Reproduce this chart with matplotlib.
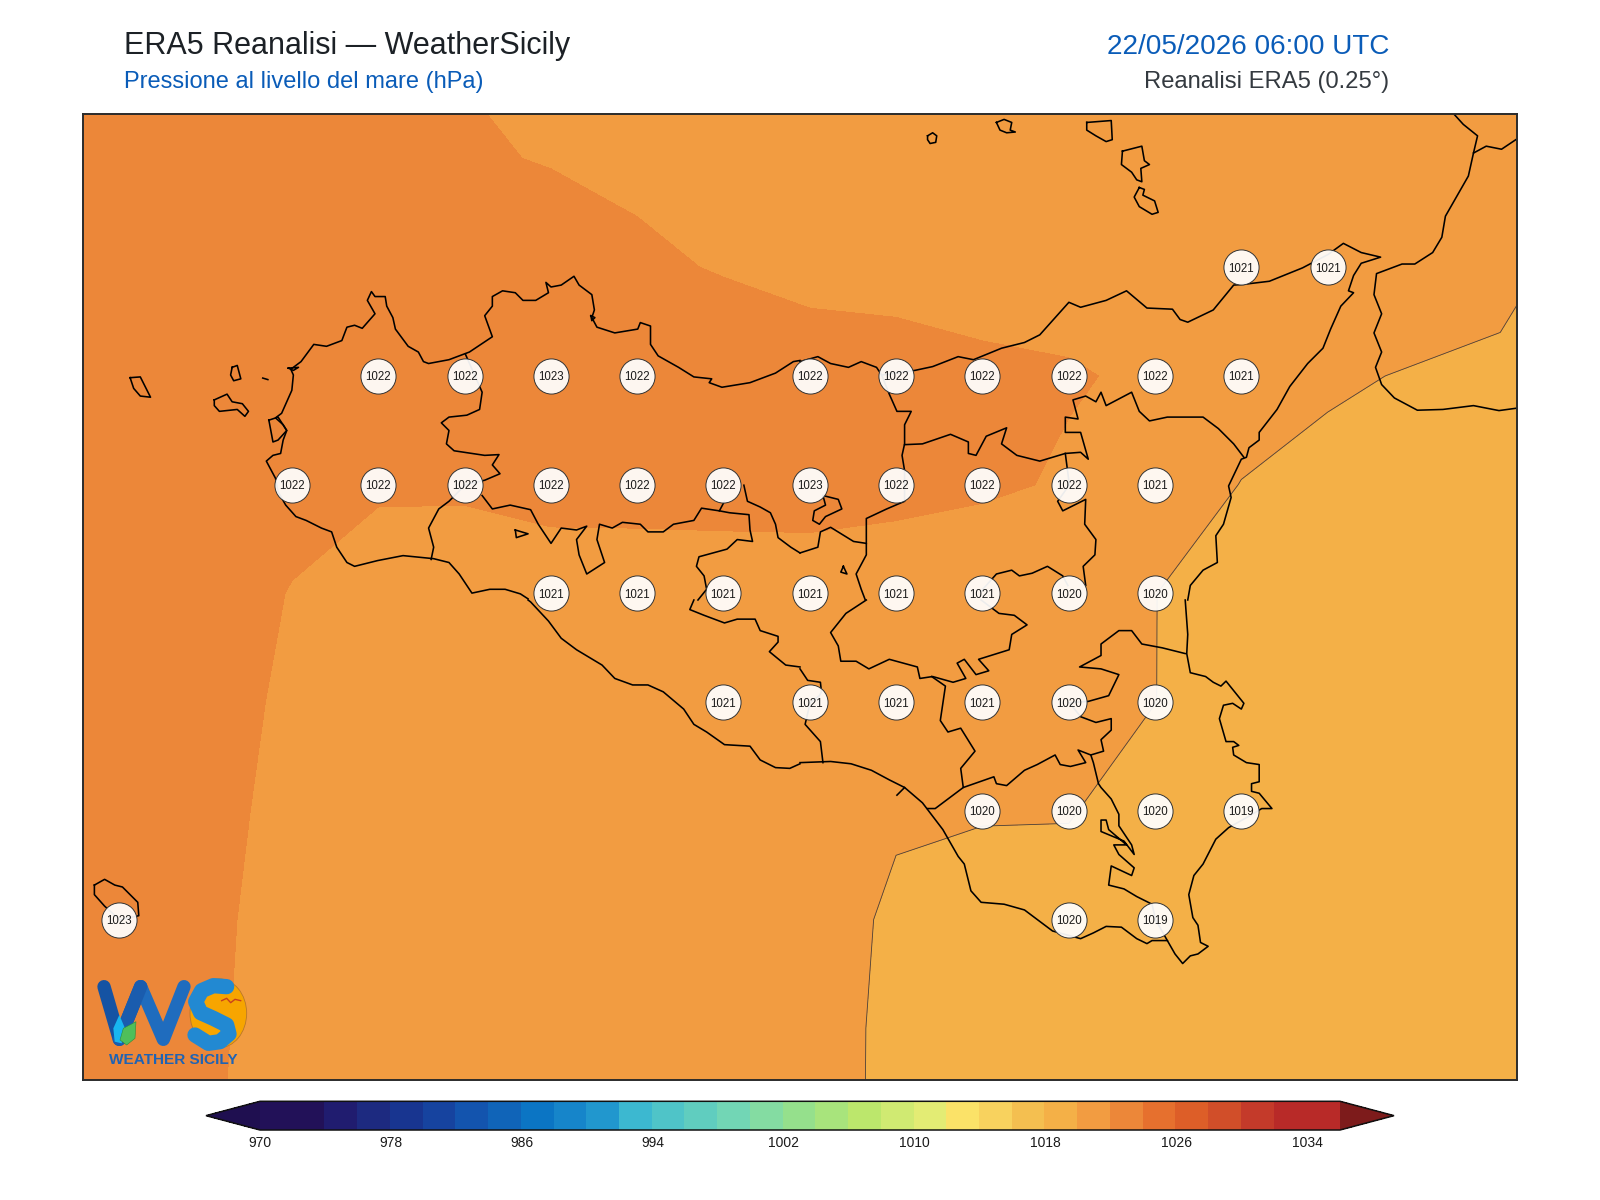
import numpy as np
import matplotlib
matplotlib.use("Agg")
import matplotlib.pyplot as plt
from matplotlib.colors import ListedColormap, BoundaryNorm
from matplotlib.patches import Ellipse, Polygon

plt.rcParams['font.family'] = ['Liberation Sans', 'DejaVu Sans']

W, H = 1600, 1200
# ---- data -------------------------------------------------------------
LONS = [11.75 + 0.25 * i for i in range(19)]
LATS = [38.75, 38.5, 38.25, 38.0, 37.75, 37.5, 37.25, 37.0, 36.75, 36.5, 36.25]
MSLP = [
 [1023.0,1022.9,1022.7,1022.4,1022.2,1021.9,1021.7,1021.6,1021.5,1021.4,1021.3,1021.2,1021.1,1021.0,1020.9,1020.8,1020.7,1020.6,1020.5],
 [1023.1,1023.0,1022.8,1022.6,1022.4,1022.2,1021.9,1021.85,1021.7,1021.55,1021.4,1021.3,1021.2,1021.1,1021.0,1020.9,1020.8,1020.5,1020.1],
 [1023.2,1023.1,1023.0,1023.0,1023.0,1023.0,1022.95,1022.13,1021.95,1021.8,1021.7,1021.6,1021.5,1021.3,1021.2,1021.1,1020.9,1020.3,1019.65],
 [1023.0,1022.9,1022.7,1022.5,1022.4,1022.45,1022.6,1022.4,1022.49,1022.33,1022.35,1022.19,1022.1,1021.81,1020.6,1020.2,1019.9,1019.8,1019.5],
 [1023.0,1022.9,1022.7,1022.3,1022.1,1022.1,1022.35,1022.4,1022.45,1022.55,1022.4,1022.25,1021.84,1020.8,1019.97,1019.6,1019.5,1019.5,1019.4],
 [1023.0,1022.8,1022.46,1021.96,1021.61,1021.57,1021.45,1021.4,1021.39,1021.3,1021.19,1020.78,1020.45,1020.01,1019.6,1019.4,1019.3,1019.3,1019.2],
 [1022.9,1022.7,1022.45,1021.8,1021.6,1021.5,1021.4,1021.3,1021.2,1021.1,1021.0,1020.7,1020.3,1020.01,1019.5,1019.2,1019.2,1019.1,1019.0],
 [1022.8,1022.6,1022.3,1021.72,1021.5,1021.3,1021.2,1021.1,1021.0,1020.8,1020.18,1020.1,1020.06,1019.52,1019.3,1019.1,1019.1,1019.0,1019.0],
 [1022.7,1022.6,1022.2,1021.65,1021.4,1021.3,1021.2,1021.0,1020.9,1020.74,1019.74,1019.39,1019.54,1019.4,1019.2,1019.1,1019.0,1019.0,1018.9],
 [1022.6,1022.4,1022.12,1021.7,1021.4,1021.2,1021.1,1021.0,1020.85,1020.65,1019.65,1019.5,1019.4,1019.3,1019.2,1019.1,1019.0,1018.9,1018.9],
 [1022.5,1022.3,1022.08,1021.7,1021.4,1021.2,1021.1,1021.0,1020.84,1020.64,1019.64,1019.5,1019.4,1019.3,1019.2,1019.1,1019.0,1018.9,1018.8],
]
LEVELS = [970 + 2 * i for i in range(34)]
BAND_COLORS = ['#221158','#221158','#201c6f','#1d2a80','#183590','#16439f','#1354ae','#1064b8',
               '#0b75c4','#1685ca','#2197ce','#3cb8d0','#4fc4c8','#60cdbf','#72d6b5','#84dca2',
               '#95e08c','#a8e47c','#bce76c','#d0ea72','#e3ec74','#fbe268','#f8d25e','#f4bf50',
               '#f4b047','#f29c41','#ec8739','#e6702e','#dd5e28','#d14e29','#c43a2a','#b82a28','#b82a28']
UNDER_COLOR, OVER_COLOR = '#1f0f50', '#7d1b1b'
CBAR_TICKS = [970, 978, 986, 994, 1002, 1010, 1018, 1026, 1034]

LABEL_LON = [15.25,15.5,
             12.75,13.0,13.25,13.5,14.0,14.25,14.5,14.75,15.0,15.25,
             12.5,12.75,13.0,13.25,13.5,13.75,14.0,14.25,14.5,14.75,15.0,
             13.25,13.5,13.75,14.0,14.25,14.5,14.75,15.0,
             13.75,14.0,14.25,14.5,14.75,15.0,
             14.5,14.75,15.0,15.25,
             12.0,14.75,15.0]
LABEL_LAT = [38.25]*2 + [38.0]*10 + [37.75]*11 + [37.5]*8 + [37.25]*6 + [37.0]*4 + [36.75]*3
LABEL_VAL = [1021,1021,
             1022,1022,1023,1022,1022,1022,1022,1022,1022,1021,
             1022,1022,1022,1022,1022,1022,1023,1022,1022,1022,1021,
             1021,1021,1021,1021,1021,1021,1020,1020,
             1021,1021,1021,1021,1020,1020,
             1020,1020,1020,1019,
             1023,1020,1019]

TILE_NW = [
 [(1035,1565),(1020,1552),(990,1540),(960,1540),(925,1550),(915,1530),(900,1500),(880,1470),(850,1460),(790,1452),(740,1465),(695,1480),(680,1470),(660,1430),(650,1390),(630,1380),(600,1360),(580,1350),(560,1320),(545,1285),(540,1250),(522,1205),(535,1190),(550,1185),(555,1150),(562,1125),(555,1110),(540,1092),(552,1080),(572,1020),(575,980),(570,965),(590,945),(615,900),(640,905),(670,890),(680,855),(695,850),(710,858),(735,820),(720,785),(728,762),(735,775),(755,775),(758,800),(770,830),(775,860),(800,905),(820,920),(830,945),(840,950),(880,940),(920,920),(965,880),(950,825),(965,800),(965,775),(985,760),(1010,765),(1025,785),(1050,785),(1075,765),(1070,738),(1080,750),(1100,745),(1125,722),(1135,745),(1160,770),(1165,810),(1160,830),(1170,855),(1205,870),(1250,860),(1255,843),(1275,852),(1275,900),(1290,930),(1330,960),(1360,985),(1395,990),(1390,1000),(1415,1012),(1470,1000),(1520,975),(1555,945),(1568,942)],
 [(912,925),(945,1025),(940,1070),(915,1085),(880,1090),(865,1105),(880,1125),(875,1160),(890,1178),(950,1190),(978,1188),(965,1215),(980,1238),(950,1255),(912,1267),(880,1310),(860,1330),(840,1380),(850,1430),(845,1462)],
 [(945,1295),(965,1330),(1000,1320),(1040,1332),(1055,1370),(1080,1420),(1100,1380),(1130,1385),(1150,1375),(1130,1410),(1135,1450),(1150,1500),(1185,1470),(1170,1410),(1175,1370),(1200,1380),(1220,1365),(1255,1370),(1270,1390),(1300,1390),(1320,1370),(1360,1360),(1375,1328),(1410,1335),(1430,1340),(1468,1345),(1470,1385),(1475,1415),(1445,1410),(1425,1435),(1370,1455),(1365,1480),(1380,1505),(1385,1540),(1368,1568)],
 [(1410,1335),(1420,1310)],
 [(1458,1268),(1465,1310),(1490,1325),(1510,1340),(1520,1370),(1525,1405),(1550,1430),(1568,1445)],
 [(1010,1385),(1035,1395),(1012,1405),(1010,1385)],
 [(255,987),(275,985),(295,1038),(275,1035),(262,1015),(255,987)],
 [(455,960),(465,955),(472,990),(458,995),(452,980),(455,960)],
 [(515,988),(525,992)],
 [(420,1045),(445,1030),(455,1050),(475,1055),(487,1075),(480,1088),(465,1070),(430,1075),(420,1060),(420,1045)],
 [(527,1098),(545,1090),(562,1125),(545,1150),(535,1155),(527,1098)],
 [(565,962),(585,960),(575,968),(565,962)],
 [(1158,825),(1166,830),(1160,838),(1158,825)],
]
TILE_NE = [
 [(0,945),(35,932),(60,950),(95,960),(120,945),(150,960),(160,980),(225,968),(260,958),(310,932),(340,940),(395,910),(440,895),(470,875),(527,790),(550,803),(600,785),(640,760),(680,805),(730,808),(745,835),(760,842),(810,810),(850,745),(870,743),(920,735),(985,700),(1035,665),(1065,636),(1100,660),(1138,672),(1100,688),(1085,720),(1075,760),(1085,765),(1060,800),(1040,860),(1025,910),(995,950),(960,1010),(935,1070),(900,1130),(900,1150),(880,1170),(875,1195),(865,1200),(840,1270),(845,1300),(830,1370),(815,1400),(818,1470),(790,1490),(765,1530),(760,1568)],
 [(0,1445),(35,1430),(40,1390),(60,1378),(105,1415),(130,1420),(130,1450),(110,1500),(120,1540),(128,1568)],
 [(130,1420),(130,1355),(170,1330),(205,1310),(205,1230),(200,1190),(205,1160),(205,1110),(218,1075),(190,1075),(175,1030),(160,980)],
 [(205,1162),(240,1160),(295,1135),(330,1155),(330,1185),(345,1190),(365,1140),(405,1118),(395,1160),(425,1190),(470,1205),(520,1185),(550,1182),(565,1200),(550,1130),(520,1130),(520,1090),(545,1095),(535,1045),(560,1035),(580,1050),(590,1025),(600,1060),(650,1025),(665,1075),(685,1100),(720,1090),(790,1090),(820,1120),(850,1160),(870,1195)],
 [(520,1185),(528,1267),(505,1310),(515,1335),(560,1305),(558,1370),(580,1410),(578,1450),(555,1480),(560,1530)],
 [(355,1545),(385,1500),(415,1490),(430,1505),(455,1498),(485,1480),(515,1505),(525,1530)],
 [(45,1295),(75,1305),(82,1330),(50,1350),(38,1370),(25,1360),(28,1335),(50,1320),(45,1295)],
 [(85,1480),(92,1500),(80,1495),(85,1480)],
 [(1283,300),(1300,325),(1328,355),(1320,400),(1310,460),(1280,530),(1265,565),(1258,620),(1240,660),(1205,690),(1180,690),(1130,715),(1125,770),(1140,820),(1125,870),(1140,920),(1128,960),(1140,1005),(1165,1040),(1210,1072),(1260,1070),(1320,1060),(1370,1073),(1403,1067)],
 [(1320,400),(1345,382),(1375,390),(1403,365)],
 [(250,355),(260,347),(268,355),(266,372),(255,375),(250,365),(250,355)],
 [(385,320),(400,312),(415,320),(412,340),(422,345),(405,347),(392,340),(385,320)],
 [(562,320),(610,315),(612,365),(600,370),(580,355),(562,340),(562,320)],
 [(632,395),(670,382),(675,420),(685,430),(668,440),(670,475),(660,470),(650,450),(630,430),(632,395)],
 [(665,490),(675,495),(672,510),(695,525),(702,555),(690,560),(665,540),(655,515),(665,490)],
]
TILE_SW = [
 [(1568,428),(1548,440),(1520,438),(1490,418),(1470,382),(1420,378),(1385,345),(1360,325),(1340,285),(1300,240),(1270,222),(1240,222),(1205,205),(1180,170),(1130,130),(1100,100),(1075,55),(1040,5),(1035,0)],
 [(1360,0),(1352,25),(1380,40),(1420,60),(1445,50),(1480,50),(1490,80),(1525,95),(1525,110),(1508,135),(1540,170),(1568,175)],
 [(185,745),(205,730),(225,745),(240,750),(270,790),(272,825),(235,836),(205,800),(185,770),(185,745)],
]
TILE_SE = [
 [(755,0),(760,90),(758,140),(765,190),(795,200),(810,215),(825,225),(835,212),(870,270),(865,285),(848,270),(830,275),(822,310),(835,370),(850,370),(860,380),(848,385),(850,405),(875,425),(900,430),(900,475),(885,480),(885,500),(900,505),(925,545),(905,545),(880,565),(840,595),(815,625),(790,690),(772,720),(762,770),(770,830),(780,850),(785,895),(800,905),(780,925),(765,930),(750,950),(735,925),(720,890),(690,890),(680,898),(660,885),(630,855),(600,853),(575,870),(550,885),(495,865),(470,840),(440,810),(400,795),(355,790),(335,760),(322,690),(310,670),(280,600),(240,530),(205,490),(175,470),(140,445),(100,428),(60,422),(0,425)],
 [(0,180),(15,210),(40,215),(42,240),(38,250),(20,268),(10,325),(40,370),(45,425)],
 [(130,0),(90,35),(60,85),(75,120),(80,160),(110,160),(135,180),(175,155),(230,175),(235,205),(260,200),(300,215),(325,205),(308,165),(322,155),(345,195),(370,185),(350,155),(410,130),(415,90),(445,65),(420,40),(390,35),(360,5),(355,0)],
 [(755,140),(710,125),(670,115),(650,80),(625,80),(590,115),(590,145),(548,175),(590,180),(625,195),(605,250),(565,265),(528,268),(550,305),(580,320),(610,310),(610,340),(590,365),(595,395),(570,405),(545,392),(560,425),(530,435),(510,430),(500,405),(465,430),(440,445),(405,485),(385,480),(380,462),(320,490),(315,440),(343,395),(315,335),(290,345),(275,315),(285,225),(258,200)],
 [(320,490),(300,510),(265,545),(250,545)],
 [(570,405),(575,425),(585,480),(590,490),(610,520),(625,560),(625,590),(650,640),(655,665),(635,630),(590,605),(590,575),(600,575),(605,600),(640,640),(615,640),(625,665),(655,700),(650,720),(610,695),(605,745),(635,755),(660,775),(690,795),(697,836),(720,890)],
 [(190,510),(205,490)],
]
TILE_ORIGIN = {'NW': (0, 0), 'NE': (800, 0), 'SW': (0, 600), 'SE': (800, 600)}

# ---- figure -----------------------------------------------------------
AX_PX = (82.7, 113.7, 1516.8, 1080.0)   # left, top, right, bottom
EXTENT = (11.894, 16.048, 36.381, 38.603)
fig = plt.figure(figsize=(W / 100, H / 100), dpi=100, facecolor='white')
ax = fig.add_axes([AX_PX[0] / W, 1 - AX_PX[3] / H, (AX_PX[2] - AX_PX[0]) / W, (AX_PX[3] - AX_PX[1]) / H])

cmap = ListedColormap(BAND_COLORS)
cmap.set_under(UNDER_COLOR)
cmap.set_over(OVER_COLOR)
norm = BoundaryNorm(LEVELS, cmap.N)
cf = ax.contourf(LONS, LATS, np.array(MSLP), levels=LEVELS, cmap=cmap, norm=norm, extend='both')
ax.contour(LONS, LATS, np.array(MSLP), levels=[1020], colors='#4a4038', linewidths=0.6)

def trace_to_geo(pts, tile):
    ox, oy = TILE_ORIGIN[tile]
    a = np.array(pts, dtype=float)
    px = ox + a[:, 0] / 1.96
    py = oy + a[:, 1] / 2.6133
    lon = EXTENT[0] + (px - AX_PX[0]) / (AX_PX[2] - AX_PX[0]) * (EXTENT[1] - EXTENT[0])
    lat = EXTENT[3] - (py - AX_PX[1]) / (AX_PX[3] - AX_PX[1]) * (EXTENT[3] - EXTENT[2])
    return lon, lat

for tile, paths in (('NW', TILE_NW), ('NE', TILE_NE), ('SW', TILE_SW), ('SE', TILE_SE)):
    for p in paths:
        lon, lat = trace_to_geo(p, tile)
        ax.plot(lon, lat, color='black', lw=1.15, solid_joinstyle='round', zorder=3)

ax.scatter(LABEL_LON, LABEL_LAT, s=640, facecolor=(1, 1, 1, 0.93), edgecolor='#333333', linewidth=0.7, zorder=4)
for lo, la, v in zip(LABEL_LON, LABEL_LAT, LABEL_VAL):
    ax.text(lo, la, str(v), ha='center', va='center_baseline', fontsize=8.3, color='#1a1a1a', zorder=5)

ax.set_xlim(EXTENT[0], EXTENT[1])
ax.set_ylim(EXTENT[2], EXTENT[3])
ax.set_xticks([]); ax.set_yticks([])
for s in ax.spines.values():
    s.set_linewidth(1.4); s.set_color('#2b2b2b'); s.set_zorder(10)

# colour bar: the end triangles sit inside the colour-bar axes
cax = fig.add_axes([206 / W, 1 - 1130 / H, 1188 / W, 28.7 / H])
cb = fig.colorbar(cf, cax=cax, orientation='horizontal', ticks=CBAR_TICKS, extendfrac=0.05, spacing='uniform')
cb.ax.minorticks_off()
cb.ax.tick_params(which='both', length=0, labelsize=10, pad=4, colors='#1a1a1a')
cb.outline.set_linewidth(1.1); cb.outline.set_edgecolor('#111111')
cb.solids.set_edgecolor('face')

# titles
def title(x, y, s, size, color, ha='left'):
    fig.text(x / W, 1 - y / H, s, fontsize=size, color=color, ha=ha, va='baseline')
title(123.5, 53.6, 'ERA5 Reanalisi \u2014 WeatherSicily', 22.0, '#1c2126')
title(123.5, 88, 'Pressione al livello del mare (hPa)', 17.05, '#0a5cb8')
title(1389.5, 53.6, '22/05/2026 06:00 UTC', 20.05, '#0a5cb8', ha='right')
title(1389.5, 88, 'Reanalisi ERA5 (0.25\u00b0)', 17.1, '#343a40', ha='right')

# logo, drawn in its own little panel of 200x130 px (panel units are third-pixels)
lg = fig.add_axes([80 / W, 1 - 1090 / H, 200 / W, 130 / H])
lg.set_xlim(0, 600); lg.set_ylim(390, 0); lg.axis('off'); lg.patch.set_alpha(0)
lg.add_patch(Ellipse((415, 160), 170, 208, fc='#f7a500', ec='#b9772a', lw=0.6, zorder=1))
lg.plot([72, 118, 182], [80, 238, 80], color='#1553a3', lw=9.6,
        solid_capstyle='round', solid_joinstyle='round', zorder=2)
lg.plot([182, 250, 312], [80, 238, 80], color='#1f6cbe', lw=9.6,
        solid_capstyle='round', solid_joinstyle='round', zorder=2)
lg.plot([118, 182], [238, 80], color='#1a5cae', lw=9.6, solid_capstyle='round', zorder=3)
lg.add_patch(Polygon([(118, 165), (135, 205), (125, 250), (104, 245), (100, 205)], fc='#18b6f0', ec='none', zorder=4))
lg.add_patch(Polygon([(168, 185), (165, 235), (140, 255), (120, 240), (130, 205)], fc='#4fbf5a', ec='#2f8a3a', lw=0.4, zorder=5))
lg.plot([440, 400, 365, 347, 362, 400, 440, 447, 420, 385, 345],
        [80, 77, 92, 125, 158, 175, 195, 222, 245, 250, 225],
        color='#2289d2', lw=11, solid_capstyle='round', solid_joinstyle='round', zorder=4)
lg.plot([425, 440, 452, 465, 482], [122, 115, 128, 118, 122], color='#c8401c', lw=1.0, zorder=5)
lg.text(280, 299, 'WEATHER SICILY', fontsize=11.1, fontweight='bold', color='#1f63b4',
        ha='center', va='center', zorder=5)

fig.savefig('out.png', dpi=100, facecolor='white')
